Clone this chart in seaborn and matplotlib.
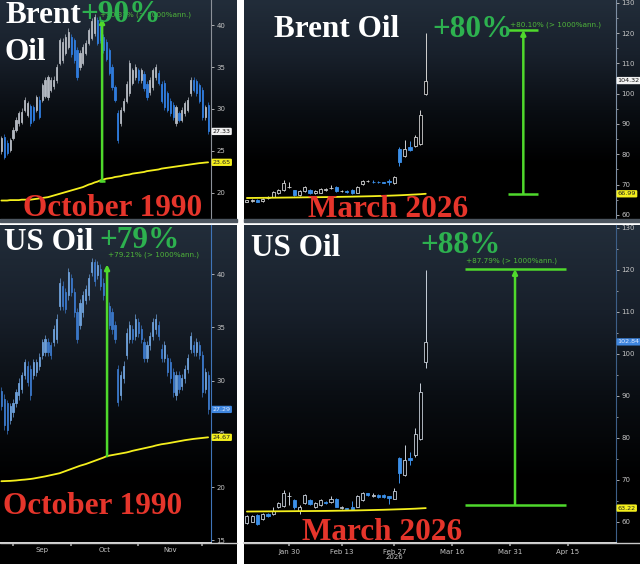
import numpy as np
import pandas as pd
import matplotlib
matplotlib.use("Agg")
import matplotlib.pyplot as plt
import seaborn as sns
from matplotlib.colors import LinearSegmentedColormap
from matplotlib.lines import Line2D

# ---------------- data ----------------
# 1990 panels: one candle per trading day starting 1990-08-28
brent90_open = [25.0, 26.7, 26.0, 25.1, 26.5, 27.5, 28.3, 28.5, 29.9, 29.3,
                30.3, 30.2, 29.9, 31.1, 31.1, 31.6, 31.4, 32.3, 32.7, 33.4,
                35.5, 35.8, 36.7, 37.4, 38.6, 38.2, 37.0, 35.0, 35.5, 36.7,
                37.9, 38.5, 39.0, 40.6, 39.8, 38.6, 38.0, 37.0, 35.0, 32.6,
                29.5, 28.3, 29.9, 31.0, 31.9, 33.1, 33.8, 34.6, 33.4, 34.2,
                33.0, 32.0, 32.6, 33.8, 34.3, 33.0, 33.1, 31.9, 31.0, 30.5,
                28.3, 29.5, 28.7, 29.5, 29.9, 31.9, 33.5, 33.3, 32.8, 32.3,
                29.0, 30.5]
brent90_close = [26.5, 24.3, 24.8, 26.3, 27.5, 28.7, 29.5, 29.7, 31.1, 30.7,
                 28.3, 28.7, 31.4, 29.1, 32.8, 33.5, 33.8, 33.5, 33.5, 35.0,
                 38.2, 38.0, 38.6, 39.2, 36.5, 35.8, 33.8, 36.7, 37.4, 37.9,
                 39.4, 40.5, 41.0, 37.9, 38.2, 37.0, 36.0, 34.3, 32.6, 31.1,
                 26.3, 29.9, 31.0, 33.0, 35.5, 34.6, 35.0, 33.4, 34.6, 32.5,
                 31.4, 33.5, 34.6, 35.0, 33.1, 31.0, 30.2, 29.9, 29.5, 29.0,
                 30.2, 28.7, 29.9, 30.7, 31.1, 33.5, 32.3, 31.9, 31.0, 29.0,
                 30.2, 27.33]
brent90_high = [26.8, 27.0, 26.3, 26.6, 27.8, 29.0, 29.8, 30.1, 31.4, 31.0,
                30.6, 30.5, 31.7, 31.5, 33.1, 33.8, 34.1, 33.8, 33.9, 35.4,
                38.5, 38.4, 38.9, 39.6, 38.9, 38.5, 37.4, 37.0, 37.7, 38.2,
                39.7, 40.8, 41.3, 41.0, 40.1, 38.9, 38.3, 37.3, 35.3, 32.9,
                29.9, 30.2, 31.3, 33.3, 35.8, 34.9, 35.3, 34.9, 34.9, 34.5,
                33.3, 33.8, 34.9, 35.3, 34.6, 33.3, 33.4, 32.2, 31.3, 30.8,
                30.5, 29.8, 30.2, 31.0, 31.4, 33.8, 33.8, 33.6, 33.1, 32.6,
                30.5, 30.8]
brent90_low = [24.7, 24.0, 24.5, 24.9, 26.3, 27.3, 28.0, 28.2, 29.6, 29.0,
               28.0, 28.4, 29.6, 28.8, 30.8, 31.3, 31.1, 32.0, 32.4, 33.1,
               35.2, 35.5, 36.4, 37.1, 36.2, 35.5, 33.5, 34.7, 35.2, 36.4,
               37.6, 38.2, 38.7, 37.6, 37.9, 36.7, 35.7, 34.0, 32.3, 30.8,
               25.9, 28.0, 29.6, 30.7, 31.6, 32.8, 33.5, 33.1, 33.1, 32.2,
               31.1, 31.7, 32.3, 33.5, 32.8, 30.7, 29.9, 29.6, 29.2, 28.7,
               28.0, 28.4, 28.4, 29.2, 29.6, 31.6, 32.0, 31.6, 30.7, 28.7,
               28.7, 27.0]
brent90_ma = [19.1, 19.1, 19.1, 19.15, 19.15, 19.15, 19.15, 19.2, 19.2, 19.2,
              19.2, 19.25, 19.3, 19.35, 19.4, 19.45, 19.5, 19.6, 19.7, 19.8,
              19.9, 20.0, 20.1, 20.2, 20.3, 20.4, 20.5, 20.6, 20.7, 20.85,
              21.0, 21.1, 21.25, 21.35, 21.5, 21.6, 21.7, 21.75, 21.8, 21.9,
              21.95, 22.0, 22.1, 22.15, 22.2, 22.3, 22.35, 22.4, 22.45, 22.5,
              22.6, 22.65, 22.7, 22.75, 22.8, 22.9, 22.95, 23.0, 23.05, 23.1,
              23.15, 23.2, 23.25, 23.3, 23.35, 23.4, 23.45, 23.5, 23.55, 23.58,
              23.62, 23.65]

us90_open = [29.0, 28.3, 27.9, 26.3, 27.0, 27.9, 28.6, 29.2, 30.5, 31.4,
             31.1, 30.5, 30.8, 31.4, 32.4, 32.7, 33.6, 33.3, 33.6, 33.9,
             37.0, 38.9, 38.3, 38.0, 39.6, 38.3, 36.4, 35.2, 36.4, 37.6,
             38.0, 40.2, 41.1, 39.9, 40.5, 39.2, 38.6, 37.0, 36.4, 35.2,
             31.1, 28.6, 30.2, 32.4, 33.9, 34.8, 34.2, 35.5, 34.8, 33.6,
             32.1, 33.3, 34.2, 34.8, 35.2, 33.0, 32.1, 32.1, 31.7, 30.8,
             28.6, 30.5, 29.5, 30.2, 31.1, 33.0, 33.3, 32.7, 33.3, 32.4,
             29.2, 30.5]
us90_close = [27.6, 25.8, 25.4, 27.6, 27.9, 28.9, 29.8, 30.5, 31.7, 29.9,
              28.6, 31.7, 31.7, 32.2, 33.6, 33.9, 32.7, 32.4, 34.8, 35.8,
              39.2, 37.0, 36.7, 40.2, 38.3, 36.4, 33.9, 37.3, 38.0, 38.6,
              39.6, 41.1, 39.3, 40.8, 38.9, 38.0, 37.0, 35.2, 34.8, 33.9,
              28.0, 30.5, 31.4, 34.5, 35.2, 33.9, 35.8, 34.5, 33.9, 32.1,
              33.3, 34.2, 35.5, 35.8, 34.2, 32.1, 33.3, 30.8, 30.2, 28.9,
              30.5, 29.2, 30.2, 31.1, 32.1, 34.2, 32.7, 33.6, 32.4, 28.9,
              30.8, 27.29]
us90_high = [29.4, 28.7, 28.2, 27.9, 28.3, 29.2, 30.2, 30.8, 32.0, 31.8,
             31.5, 32.0, 32.0, 32.6, 33.9, 34.3, 34.0, 33.6, 35.2, 36.2,
             39.6, 39.3, 38.7, 40.6, 40.0, 38.7, 36.8, 37.7, 38.4, 39.0,
             40.0, 41.5, 41.4, 41.2, 40.9, 39.6, 39.0, 37.4, 36.8, 35.6,
             31.5, 30.9, 31.8, 34.9, 35.6, 35.2, 36.2, 35.9, 35.2, 34.0,
             33.7, 34.6, 35.9, 36.2, 35.6, 33.4, 33.7, 32.5, 32.1, 31.2,
             30.9, 30.9, 30.6, 31.5, 32.5, 34.6, 33.7, 34.0, 33.7, 32.8,
             31.2, 30.9]
us90_low = [27.2, 25.4, 25.0, 25.9, 26.6, 27.5, 28.2, 28.8, 30.1, 29.5,
            28.2, 30.1, 30.4, 31.0, 32.0, 32.3, 32.3, 32.0, 33.2, 33.5,
            36.6, 36.6, 36.3, 37.6, 37.9, 36.0, 33.5, 34.8, 36.0, 37.2,
            37.6, 39.8, 38.9, 39.5, 38.5, 37.6, 36.6, 34.8, 34.4, 33.5,
            27.6, 28.2, 29.8, 32.0, 33.5, 33.5, 33.8, 34.1, 33.5, 31.7,
            31.7, 32.9, 33.8, 34.4, 33.8, 31.7, 31.7, 30.4, 29.8, 28.5,
            28.2, 28.8, 29.1, 29.8, 30.7, 32.6, 32.3, 32.3, 32.0, 28.5,
            28.8, 26.9]
us90_ma = [20.55, 20.56, 20.57, 20.58, 20.6, 20.62, 20.65, 20.68, 20.7, 20.73,
           20.76, 20.8, 20.85, 20.9, 20.95, 21.0, 21.06, 21.12, 21.18, 21.24,
           21.3, 21.4, 21.5, 21.6, 21.7, 21.8, 21.9, 22.0, 22.08, 22.16,
           22.26, 22.36, 22.46, 22.56, 22.66, 22.76, 22.88, 22.95, 23.0, 23.05,
           23.1, 23.15, 23.2, 23.25, 23.32, 23.4, 23.46, 23.52, 23.58, 23.64,
           23.7, 23.76, 23.82, 23.9, 23.96, 24.02, 24.06, 24.1, 24.15, 24.2,
           24.25, 24.3, 24.35, 24.4, 24.44, 24.48, 24.52, 24.55, 24.58, 24.61,
           24.64, 24.67]

# 2026 panels: one candle per trading day starting 2026-01-20
brent26_open = [64.4, 64.5, 65.0, 64.6, 65.5, 66.0, 67.3, 68.2, 69.1, 68.2,
                66.6, 67.8, 68.2, 67.1, 67.3, 68.3, 68.8, 69.3, 67.9, 68.0,
                68.4, 67.3, 70.1, 71.2, 71.0, 71.0, 70.9, 71.1, 70.6, 81.9,
                79.3, 82.5, 82.6, 83.5, 99.8]
brent26_close = [64.9, 65.0, 64.4, 65.3, 65.6, 67.6, 68.2, 70.4, 69.3, 66.7,
                 68.0, 69.3, 67.3, 68.0, 68.6, 68.5, 69.0, 67.8, 68.0, 67.6,
                 67.1, 69.3, 71.1, 71.3, 70.8, 70.8, 70.7, 70.9, 72.4, 77.5,
                 81.9, 81.4, 85.8, 93.0, 104.32]
brent26_high = [65.1, 65.2, 65.2, 65.6, 66.2, 67.9, 68.6, 71.6, 71.0, 68.4,
                68.3, 69.6, 68.5, 68.3, 68.9, 68.9, 69.8, 69.5, 68.3, 68.2,
                68.6, 69.6, 71.4, 71.7, 71.4, 71.1, 71.0, 71.8, 72.8, 82.3,
                84.7, 84.4, 86.3, 94.7, 119.9]
brent26_low = [64.2, 64.3, 64.2, 64.4, 65.2, 65.8, 67.0, 68.0, 68.8, 66.4,
               66.3, 67.6, 67.0, 66.9, 67.1, 68.0, 68.7, 67.5, 67.6, 67.3,
               66.9, 67.1, 69.9, 70.8, 70.5, 70.6, 70.5, 70.0, 70.3, 76.0,
               79.0, 81.0, 82.3, 83.2, 99.5]
brent26_ma = [65.60, 65.62, 65.64, 65.66, 65.68, 65.70, 65.72, 65.74, 65.76, 65.78,
              65.80, 65.82, 65.84, 65.86, 65.88, 65.90, 65.93, 65.96, 65.99, 66.02,
              66.05, 66.09, 66.13, 66.17, 66.21, 66.26, 66.31, 66.37, 66.43, 66.50,
              66.58, 66.67, 66.76, 66.86, 66.99]

us26_open = [59.7, 60.0, 61.5, 60.7, 61.9, 61.7, 63.4, 63.8, 66.0, 65.2,
             62.6, 64.4, 65.2, 63.4, 64.0, 64.7, 64.6, 65.5, 63.3, 63.2,
             63.6, 63.6, 65.1, 66.7, 66.1, 66.3, 66.4, 66.0, 65.5, 75.1,
             71.2, 75.1, 75.9, 79.8, 98.1]
us26_close = [61.3, 61.3, 59.5, 61.9, 61.3, 62.6, 64.4, 66.8, 66.2, 63.4,
              63.6, 66.3, 64.3, 64.4, 65.1, 64.5, 65.5, 63.6, 63.5, 63.0,
              62.9, 66.0, 66.7, 66.4, 66.4, 65.9, 65.8, 65.7, 67.2, 71.6,
              74.7, 74.8, 81.0, 91.0, 102.84]
us26_high = [61.5, 61.5, 61.7, 62.1, 62.1, 63.5, 64.6, 67.6, 67.0, 65.4,
             64.0, 66.6, 65.4, 64.7, 65.4, 64.9, 66.2, 65.7, 63.7, 63.3,
             64.8, 66.3, 67.0, 66.9, 66.9, 66.5, 66.6, 66.2, 68.0, 75.4,
             78.3, 76.5, 82.3, 93.0, 119.9]
us26_low = [59.5, 59.8, 59.3, 60.5, 61.0, 61.5, 63.2, 63.6, 64.0, 63.0,
            61.8, 64.2, 64.0, 63.2, 63.8, 64.3, 64.4, 63.4, 63.1, 62.9,
            62.7, 63.4, 64.9, 66.2, 65.9, 65.7, 65.6, 64.3, 65.3, 69.3,
            70.9, 73.6, 75.5, 79.4, 96.5]
us26_ma = [62.40, 62.41, 62.42, 62.43, 62.44, 62.45, 62.46, 62.47, 62.48, 62.49,
           62.50, 62.51, 62.52, 62.53, 62.54, 62.55, 62.57, 62.59, 62.61, 62.63,
           62.65, 62.67, 62.70, 62.73, 62.76, 62.79, 62.82, 62.86, 62.90, 62.94,
           62.98, 63.03, 63.08, 63.15, 63.22]

dates90 = pd.bdate_range("1990-08-28", "1990-12-31")
dates26 = pd.bdate_range("2026-01-20", "2026-05-01")
ticks26 = ["2026-01-30", "2026-02-13", "2026-02-27", "2026-03-16", "2026-03-31", "2026-04-15"]
ticklabels26 = ["Jan 30", "Feb 13", "Feb 27\n2026", "Mar 16", "Mar 31", "Apr 15"]

# moves (low -> high) shown by the green markers
move_brent90 = (21.4, 40.8)
move_us90 = (22.9, 40.9)
move_brent26 = (67.0, 121.0)
move_us26 = (64.05, 120.2)

# ---------------- style ----------------
W, H = 640, 564
SERIF = ["Liberation Serif", "DejaVu Serif"]
GREEN_TXT = "#2db14f"
GREEN_LINE = "#4fd92c"
RED_TXT = "#e5352b"
YELLOW = "#f4ef1d"
TICK_COL = "#c4c4c4"

sns.set_theme(style="dark")
plt.rcParams["font.family"] = ["DejaVu Sans"]

fig = plt.figure(figsize=(W / 100, H / 100), dpi=100, facecolor="white")

grad_cmap = LinearSegmentedColormap.from_list(
    "bbg", ["#222d3a", "#18202b", "#0a0e13", "#000000", "#000000"])


def rect(x0, y0, x1, y1):
    return [x0 / W, 1 - y1 / H, (x1 - x0) / W, (y1 - y0) / H]


def panel(box, axbox, xlim, ylim, spine_col):
    bg = fig.add_axes(rect(*box))
    bg.imshow(np.linspace(0, 1, 256).reshape(-1, 1), aspect="auto",
              cmap=grad_cmap, extent=[0, 1, 0, 1])
    bg.set_axis_off()
    ax = fig.add_axes(rect(*axbox))
    ax.set_facecolor("none")
    ax.grid(False)
    for s in ["top", "left", "bottom"]:
        ax.spines[s].set_visible(False)
    ax.spines["right"].set_color(spine_col)
    ax.spines["right"].set_linewidth(0.8)
    ax.yaxis.tick_right()
    ax.tick_params(axis="y", which="major", colors=TICK_COL, labelsize=5,
                   length=2.5, width=0.6, pad=1.5, direction="out", right=True, left=False)
    ax.tick_params(axis="y", which="minor", colors=TICK_COL, length=1.5, width=0.5,
                   right=True, left=False)
    ax.tick_params(axis="x", which="both", bottom=False, labelbottom=False)
    ax._lims = (xlim, ylim)
    return ax


def draw_candles(ax, o, h, l, c, up_col, dn_col, width, hollow, wick_lw=0.7):
    o, h, l, c = (np.asarray(v, dtype=float) for v in (o, h, l, c))
    x = np.arange(len(o))
    up = c >= o
    ax.vlines(x[up], l[up], h[up], color=up_col, lw=wick_lw, zorder=2)
    ax.vlines(x[~up], l[~up], h[~up], color=dn_col, lw=wick_lw, zorder=2)
    lo = np.minimum(o, c)
    ht = np.abs(c - o)
    ax.bar(x[up], ht[up], width, bottom=lo[up],
           facecolor="#06080b" if hollow else up_col, edgecolor=up_col, lw=0.6, zorder=3)
    ax.bar(x[~up], ht[~up], width, bottom=lo[~up],
           facecolor=dn_col, edgecolor=dn_col, lw=0.6, zorder=3)


def draw_ma(ax, vals):
    sns.lineplot(x=np.arange(len(vals)), y=vals, ax=ax, color=YELLOW, lw=1.3,
                 legend=False, zorder=4)
    ax.set_xlabel("")
    ax.set_ylabel("")


def tag(ax, val, text, fc, tc):
    ax.annotate(text, xy=(1, val), xycoords=ax.get_yaxis_transform(),
                xytext=(1.2, 0), textcoords="offset points", ha="left", va="center",
                fontsize=4.6, color=tc, annotation_clip=False, zorder=10,
                bbox=dict(boxstyle="round,pad=0.18", fc=fc, ec="none"))


def big(x, y, s, color, size=22.5, z=5):
    fig.text(x / W, 1 - y / H, s, color=color, fontsize=size, fontweight="bold",
             family=SERIF, ha="left", va="baseline", zorder=z)


def small(x, y, s):
    fig.text(x / W, 1 - y / H, s, color="#4fb63a", fontsize=5.2, ha="left",
             va="baseline", zorder=4)


def arrow(ax, x, lo, hi):
    ax.annotate("", xy=(x, hi), xytext=(x, lo),
                arrowprops=dict(arrowstyle="-|>", color=GREEN_LINE, lw=1.8,
                                mutation_scale=7, shrinkA=0, shrinkB=0), zorder=6)


def finish(ax):
    xlim, ylim = ax._lims
    ax.set_xlim(*xlim)
    ax.set_ylim(*ylim)


# separators between rows
for x0, x1 in [(0, 237), (244, 640)]:
    fig.add_artist(plt.Rectangle((x0 / W, 1 - 222 / H), (x1 - x0) / W, 3 / H,
                                 transform=fig.transFigure, color="#4c555f", zorder=1))

# ---------------- top left: Brent 1990 ----------------
ax = panel((0, 0, 237, 219), (0, 0, 211, 219), (-0.47, 72.0), (16.9, 42.98), "#8c9199")
draw_candles(ax, brent90_open, brent90_high, brent90_low, brent90_close,
             "#b3b8c0", "#2f7bdc", 0.4, False, wick_lw=0.5)
draw_ma(ax, brent90_ma)
ax.set_yticks([20, 25, 30, 35, 40])
arrow(ax, 34.6, *move_brent90)
ax.hlines(move_brent90[0], 33.7, 35.5, color=GREEN_LINE, lw=1.8, zorder=6)
tag(ax, brent90_close[-1], f"{brent90_close[-1]:.2f}", "#f2f2f2", "#111111")
tag(ax, brent90_ma[-1], f"{brent90_ma[-1]:.2f}", YELLOW, "#222222")
finish(ax)

# ---------------- top right: Brent 2026 ----------------
ax = panel((244, 0, 640, 219), (244, 0, 616, 219), (-0.555, 70.17), (58.68, 130.88), "#7d8ea3")
draw_candles(ax, brent26_open, brent26_high, brent26_low, brent26_close,
             "#d2d2d2", "#3b8fe8", 0.6, True)
draw_ma(ax, brent26_ma)
ax.set_yticks(range(60, 131, 10))
ax.set_yticks(range(65, 131, 10), minor=True)
ax.yaxis.set_minor_formatter(plt.NullFormatter())
arrow(ax, 52.55, *move_brent26)
ax.hlines(list(move_brent26), 49.7, 55.4, color=GREEN_LINE, lw=1.8, zorder=6)
tag(ax, brent26_close[-1], f"{brent26_close[-1]:.2f}", "#f2f2f2", "#111111")
tag(ax, brent26_ma[-1], f"{brent26_ma[-1]:.2f}", YELLOW, "#222222")
finish(ax)

# ---------------- bottom left: US oil 1990 ----------------
ax = panel((0, 225, 237, 564), (0, 225, 211, 543), (-0.47, 72.0), (14.75, 44.6), "#3f74b8")
draw_candles(ax, us90_open, us90_high, us90_low, us90_close,
             "#6d9fd8", "#3a76c6", 0.4, False, wick_lw=0.5)
draw_ma(ax, us90_ma)
ax.set_yticks([15, 20, 25, 30, 35, 40])
arrow(ax, 36.3, *move_us90)
tag(ax, us90_close[-1], f"{us90_close[-1]:.2f}", "#3f86de", "#dfeaff")
tag(ax, us90_ma[-1], f"{us90_ma[-1]:.2f}", YELLOW, "#222222")
month_starts = [dates90.searchsorted(pd.Timestamp(m)) for m in
                ["1990-09-01", "1990-10-01", "1990-11-01", "1990-12-01"]]
mids = [(a + b) / 2 for a, b in zip(month_starts[:-1], month_starts[1:])]
ax.spines["bottom"].set_visible(True)
ax.spines["bottom"].set_color("#dcdcdc")
ax.spines["bottom"].set_linewidth(1.4)
ax.set_xticks(month_starts)
ax.set_xticklabels([])
ax.set_xticks(mids, minor=True)
ax.set_xticklabels(["Sep", "Oct", "Nov"], minor=True)
ax.tick_params(axis="x", which="major", bottom=True, length=2, color="#9a9a9a", labelbottom=False)
ax.tick_params(axis="x", which="minor", bottom=True, length=0, labelbottom=True,
               labelsize=5, labelcolor=TICK_COL, pad=3)
finish(ax)

# ---------------- bottom right: US oil 2026 ----------------
ax = panel((244, 225, 640, 564), (244, 225, 616, 543), (-0.555, 70.17), (54.9, 130.7), "#3d5f88")
draw_candles(ax, us26_open, us26_high, us26_low, us26_close,
             "#c8d0da", "#3b8fe8", 0.6, True)
draw_ma(ax, us26_ma)
ax.set_yticks(range(60, 131, 10))
ax.set_yticks(range(55, 131, 10), minor=True)
ax.yaxis.set_minor_formatter(plt.NullFormatter())
arrow(ax, 50.97, *move_us26)
ax.hlines(list(move_us26), 41.5, 60.7, color=GREEN_LINE, lw=1.8, zorder=6)
tag(ax, us26_close[-1], f"{us26_close[-1]:.2f}", "#3f86de", "#dfeaff")
tag(ax, us26_ma[-1], f"{us26_ma[-1]:.2f}", YELLOW, "#222222")
ax.spines["bottom"].set_visible(True)
ax.spines["bottom"].set_color("#dcdcdc")
ax.spines["bottom"].set_linewidth(1.4)
ax.set_xticks(dates26.get_indexer(pd.to_datetime(ticks26)))
ax.set_xticklabels(ticklabels26, linespacing=0.95)
ax.tick_params(axis="x", which="major", bottom=True, labelbottom=True, length=2,
               color="#9a9a9a", labelsize=5, labelcolor=TICK_COL, pad=2)
finish(ax)

# x-axis line continues under the price scale
for x0, x1 in [(0, 237), (244, 640)]:
    fig.add_artist(Line2D([x0 / W, x1 / W], [1 - 543 / H] * 2, color="#c8c8c8", lw=1.0,
                          transform=fig.transFigure, zorder=2))

# ---------------- annotation text ----------------
small(100, 16, "+90.31% (> 1000%ann.)")
big(5, 23, "Brent", "white")
big(5, 60, "Oil", "white")
big(80, 22, "+90%", GREEN_TXT)
big(23, 216, "October 1990", RED_TXT)

small(510, 27, "+80.10% (> 1000%ann.)")
big(274, 37, "Brent Oil", "white")
big(432, 37, "+80%", GREEN_TXT)
big(308, 217, "March 2026", RED_TXT)

small(108, 257, "+79.21% (> 1000%ann.)")
big(4, 250, "US Oil", "white")
big(99, 248, "+79%", GREEN_TXT)
big(3, 514, "October 1990", RED_TXT)

small(466, 262, "+87.79% (> 1000%ann.)")
big(251, 256, "US Oil", "white")
big(420, 253, "+88%", GREEN_TXT)
big(302, 540, "March 2026", RED_TXT)

fig.savefig("out.png", dpi=100, facecolor="white")
